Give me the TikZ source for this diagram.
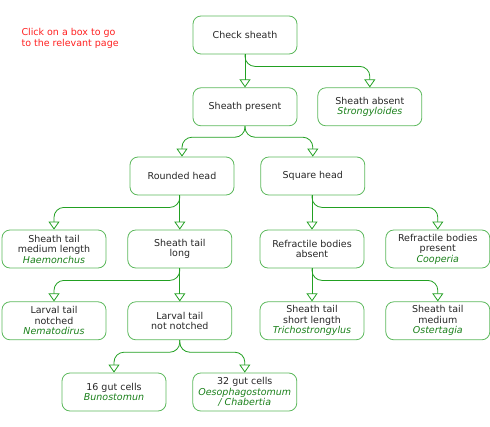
\documentclass[tikz,border=0pt]{standalone}
\usepackage{fontspec}
\setmainfont{DejaVu Sans}
\usepackage{xcolor}
\usetikzlibrary{arrows.meta,positioning}

\definecolor{boxgreen}{HTML}{5CB85C}
\definecolor{linkgreen}{HTML}{22A022}
\definecolor{species}{HTML}{1A801A}
\definecolor{hint}{HTML}{FF2020}
\newcommand{\species}[1]{{\color{species}\itshape #1}}

\begin{document}
\begin{tikzpicture}[x=1pt,y=-1pt,node distance=33pt,
  box/.style={draw=boxgreen,line width=0.8pt,rounded corners=8pt,
    minimum width=104pt,minimum height=38pt,inner sep=1pt,align=center,
    text=black!85,font=\fontsize{9.5}{10.5}\selectfont},
  link/.style={draw=linkgreen,line width=0.8pt,rounded corners=10pt,
    -{Triangle[open,width=11pt,length=8pt]}}]
\useasboundingbox (0,0) rectangle (490,426);

\node[anchor=north west,align=left,text=hint,font=\fontsize{9.5}{10.5}\selectfont] (hintnote) at (18,25) {Click on a box to go\\to the relevant page};

% keys
\node[box] (check) at (245,35) {Check sheath};
\node[box,below=of check] (present) {Sheath present};
\node[box,right=20pt of present] (absent) {Sheath absent\\\species{Strongyloides}};
\node[box] (rounded) at (182,176) {Rounded head};
\node[box,right=26pt of rounded] (square) {Square head};
\node[box] (tailmed) at (54,249) {Sheath tail\\medium length\\\species{Haemonchus}};
\node[box,right=21pt of tailmed] (taillong) {Sheath tail\\long};
\node[box] (refabsent) at (312,249) {Refractile bodies\\absent};
\node[box,right=21pt of refabsent] (refpresent) {Refractile bodies\\present\\\species{Cooperia}};
\node[box,below=of tailmed] (notched) {Larval tail\\notched\\\species{Nematodirus}};
\node[box,below=of taillong] (notnotched) {Larval tail\\not notched};
\node[box,below=of refabsent] (tailshort) {Sheath tail\\short length\\\species{Trichostrongylus}};
\node[box,below=of refpresent] (tailmedium) {Sheath tail\\medium\\\species{Ostertagia}};
\node[box] (gut16) at (114,392) {16 gut cells\\\species{Bunostomun}};
\node[box,right=26pt of gut16] (gut32) {32 gut cells\\\species{Oesophagostomum}\\\species{/ Chabertia}};

% connectors
\draw[link] (check.south) -- (present.north);
\draw[link] (check.south) -- ++(0,-12pt) -| (absent.north);
\draw[link] (present.south) -- ++(0,-11pt) -| (rounded.north);
\draw[link] (present.south) -- ++(0,-11pt) -| (square.north);
\draw[link] (taillong.north |- rounded.south) -- (taillong.north);
\draw[link] (taillong.north |- rounded.south) -- ++(0,-12pt) -| (tailmed.north);
\draw[link] (refabsent.north |- square.south) -- (refabsent.north);
\draw[link] (refabsent.north |- square.south) -- ++(0,-12pt) -| (refpresent.north);
\draw[link] (taillong.south) -- (notnotched.north);
\draw[link] (taillong.south) -- ++(0,-12pt) -| (notched.north);
\draw[link] (refabsent.south) -- (tailshort.north);
\draw[link] (refabsent.south) -- ++(0,-12pt) -| (tailmedium.north);
\draw[link] (notnotched.south) -- ++(0,-12pt) -| (gut16.north);
\draw[link] (notnotched.south) -- ++(0,-12pt) -| (gut32.north);
\end{tikzpicture}
\end{document}
